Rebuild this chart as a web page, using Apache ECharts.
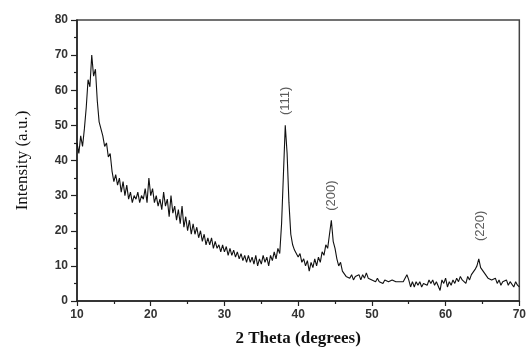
<!DOCTYPE html>
<html><head><meta charset="utf-8">
<script src="https://cdn.jsdelivr.net/npm/echarts@6/dist/echarts.min.js"></script>
<style>html,body{margin:0;padding:0;background:#fff}#c{width:529px;height:352px}</style>
</head><body><div id="c"></div>
<script>
const theta = [
10,10.25,10.5,10.75, 11,11.25,11.5,11.75, 12,12.25,12.5,12.75, 13,13.25,13.5,13.75, 14,14.25,14.5,14.75,
15,15.25,15.5,15.75, 16,16.25,16.5,16.75, 17,17.25,17.5,17.75, 18,18.25,18.5,18.75, 19,19.25,19.5,19.75,
20,20.25,20.5,20.75, 21,21.25,21.5,21.75, 22,22.25,22.5,22.75, 23,23.25,23.5,23.75, 24,24.25,24.5,24.75,
25,25.25,25.5,25.75, 26,26.25,26.5,26.75, 27,27.25,27.5,27.75, 28,28.25,28.5,28.75, 29,29.25,29.5,29.75,
30,30.25,30.5,30.75, 31,31.25,31.5,31.75, 32,32.25,32.5,32.75, 33,33.25,33.5,33.75, 34,34.25,34.5,34.75,
35,35.25,35.5,35.75, 36,36.25,36.5,36.75, 37,37.25,37.5,37.75, 38,38.25,38.5,38.75, 39,39.25,39.5,39.75,
40,40.25,40.5,40.75, 41,41.25,41.5,41.75, 42,42.25,42.5,42.75, 43,43.25,43.5,43.75, 44,44.25,44.5,44.75,
45,45.25,45.5,45.75, 46,46.25,46.5,46.75, 47,47.25,47.5,47.75, 48,48.25,48.5,48.75, 49,49.25,49.5,49.75,
50,50.25,50.5,50.75, 51,51.25,51.5,51.75, 52,52.25,52.5,52.75, 53,53.25,53.5,53.75, 54,54.25,54.5,54.75,
55,55.25,55.5,55.75, 56,56.25,56.5,56.75, 57,57.25,57.5,57.75, 58,58.25,58.5,58.75, 59,59.25,59.5,59.75,
60,60.25,60.5,60.75, 61,61.25,61.5,61.75, 62,62.25,62.5,62.75, 63,63.25,63.5,63.75, 64,64.25,64.5,64.75,
65,65.25,65.5,65.75, 66,66.25,66.5,66.75, 67,67.25,67.5,67.75, 68,68.25,68.5,68.75, 69,69.25,69.5,69.75,
70
];
const intensity = [
45,42,47,44, 49,55,63,61, 70,64,66,57, 51,49,47,44, 45,41,42,37,
34,36,33,35, 31,34,30,33, 29,31,28,30, 29,31,28,30, 29,32,28,35,
30,32,28,30, 27,29,26,31, 27,29,24,30, 25,27,23,26, 22,27,21,24,
20,23,19,22, 19,21,18,20, 17,19,16,18, 16,18,15,17, 15,16,14,16,
14,15.5,13,15, 13,14.5,12.5,14, 12,13.5,11.5,13, 11,13,11,12.5, 10.5,13,10,12,
10.5,13,11,12.5, 10,13,11.5,14, 12,15,13.5,22, 36,50,42,28, 19,16,14.5,15,
12.5,13.5,11,12, 10,11.5,8.5,11, 9.5,12,10,12.5, 11,14,13,16, 15,19,23,17,
15,12,10,11, 8.5,9,7,7.5, 6.5,7.5,6,7, 6.5,7.5,6,7.5, 6.5,8,6.5,7,
6,6.5,5.5,6.5, 5.5,6,5,6, 5.5,5.5,5.5,6, 5.5,5.5,5.5,5.5, 6,5.5,5.5,7.5,
6,4,5.5,4, 5.5,4.5,5.5,4, 5,5.5,4.5,6, 5,6,4.5,5.5, 5,3,6,5,
6.5,4,5.5,4.5, 6,5,6.5,5.5, 7,6,6.5,5, 7,6,7.5,8, 9,10,12,9.5,
10,8,8.5,6.5, 7,6,5.5,6.5, 5,6,4.5,5.5, 5,6,4.5,5.5, 5,4,5.5,4.5,
4
];
const peakLabels = ['(111)', '(200)', '(220)'];
const peakLabelTheta = [38.3, 44.5, 64.7];
const peakLabelIntensity = [57, 30, 21.4];

const chart = echarts.init(document.getElementById('c'), null, {renderer: 'canvas'});
const tickFont = {fontFamily: 'Liberation Sans', fontWeight: 'bold', fontSize: 12, color: '#333'};
chart.setOption({
  animation: false,
  backgroundColor: '#fff',
  grid: {left: 77, right: 7, top: 20, bottom: 45, show: true, borderColor: '#444', borderWidth: 1.5},
  xAxis: {
    type: 'value', min: 10, max: 70, interval: 10,
    name: '2 Theta (degrees)', nameLocation: 'middle', nameGap: 29,
    nameTextStyle: {fontFamily: 'Liberation Serif', fontWeight: 'bold', fontSize: 17, color: '#111'},
    axisLine: {lineStyle: {color: '#222', width: 1.5}},
    axisTick: {inside: false, length: 5, lineStyle: {color: '#222', width: 1.2}},
    minorTick: {show: true, splitNumber: 2, length: 3, lineStyle: {color: '#222', width: 1.2}},
    splitLine: {show: false},
    axisLabel: Object.assign({margin: 8}, tickFont)
  },
  yAxis: {
    type: 'value', min: 0, max: 80, interval: 10,
    name: 'Intensity (a.u.)', nameLocation: 'middle', nameGap: 46,
    nameTextStyle: {fontFamily: 'Liberation Serif', fontSize: 17, color: '#111'},
    axisLine: {show: true, lineStyle: {color: '#222', width: 1.5}},
    axisTick: {show: true, inside: false, length: 6, lineStyle: {color: '#222', width: 1.2}},
    minorTick: {show: true, splitNumber: 2, length: 3, lineStyle: {color: '#222', width: 1.2}},
    splitLine: {show: false},
    axisLabel: Object.assign({margin: 9}, tickFont)
  },
  series: [
    {
      type: 'line', symbol: 'none',
      data: theta.map((t, i) => [t, intensity[i]]),
      lineStyle: {color: '#111', width: 1.1}
    },
    {
      type: 'scatter', symbolSize: 0,
      data: peakLabels.map((n, i) => ({name: n, value: [peakLabelTheta[i], peakLabelIntensity[i]]})),
      label: {show: true, position: 'inside', rotate: 90, formatter: '{b}',
        fontFamily: 'Liberation Sans', fontSize: 13, color: '#333'}
    }
  ]
});
</script></body></html>
